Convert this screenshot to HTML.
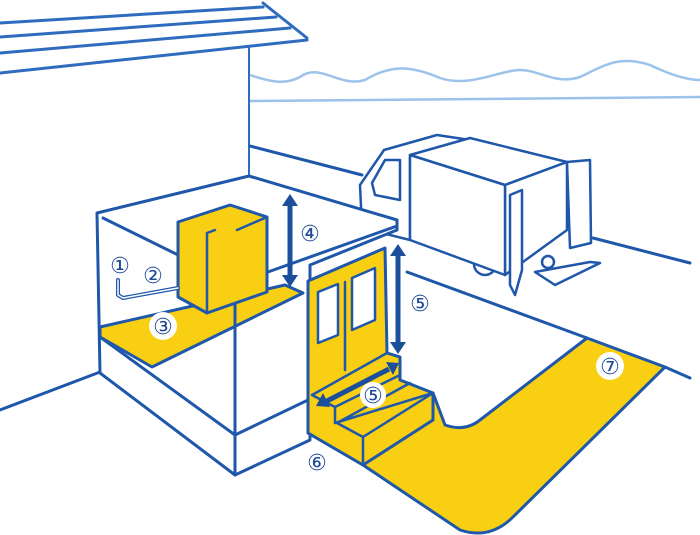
<!DOCTYPE html>
<html><head><meta charset="utf-8"><style>
html,body{margin:0;padding:0;background:#fff;width:700px;height:535px;overflow:hidden}
svg{display:block}
text{font-family:"Liberation Sans","DejaVu Sans",sans-serif;fill:#1e4a9a}
</style></head><body>
<svg width="700" height="535" viewBox="0 0 700 535" xmlns="http://www.w3.org/2000/svg">
<g fill="none" stroke="#2f6cc0" stroke-width="3" stroke-linecap="round" stroke-linejoin="round">
<!-- roof -->
<line x1="0" y1="23" x2="263" y2="7"/>
<line x1="0" y1="37" x2="276" y2="17"/>
<line x1="0" y1="53" x2="290" y2="28"/>
<line x1="0" y1="73" x2="307" y2="40"/>
<line x1="263" y1="3" x2="307" y2="38"/>
<line x1="249" y1="47" x2="249" y2="176" stroke-width="2"/>
</g>
<!-- background lines -->
<path d="M250 75 C270 82 285 85 300 77 C320 62 340 88 365 80 C390 65 410 65 440 78 C470 88 500 70 520 70 C540 70 555 85 580 77 C605 65 620 55 650 65 C675 77 690 80 700 80" fill="none" stroke="#9cc3ea" stroke-width="2.5"/>
<line x1="250" y1="101" x2="700" y2="97" stroke="#9cc3ea" stroke-width="2.5"/>
<g fill="none" stroke="#1f57aa" stroke-width="3" stroke-linejoin="round" stroke-linecap="round">
<line x1="250" y1="146" x2="362" y2="175"/>
<line x1="593" y1="238" x2="690" y2="263"/>
<line x1="407" y1="272" x2="587" y2="338"/>
<line x1="665" y1="367" x2="690" y2="378"/>
<line x1="0" y1="410" x2="100" y2="372"/>
</g>
<!-- truck -->
<g fill="#fff" stroke="#1f57aa" stroke-width="2.5" stroke-linejoin="round">
<path d="M384 150 L437 135 L470 140 L410 157 L410 240 L362 228 L360 185 Z"/>
<path d="M372 183 L385 160 L400 160 L400 200 L375 195 Z" fill="none"/>
<circle cx="485" cy="264" r="11"/>
<path d="M410 155 L470 138 L567 162 L505 185 Z"/>
<path d="M505 185 L567 162 L567 230 L505 275 Z"/>
<path d="M410 155 L505 185 L505 275 L410 240 Z"/>
<path d="M567 162 L590 160 L591 243 L570 248 Z"/>
<path d="M510 195 L522 190 L522 270 L515 295 L510 285 Z"/>
<path d="M535 272 L590 262 L600 263 L555 285 Z"/>
<circle cx="548" cy="262" r="6"/>
</g>
<!-- room -->
<g stroke="#1f57aa" stroke-width="3" stroke-linejoin="round" stroke-linecap="round">
<path d="M97 213 L249 176 L397 220 L397 230 L310 265 L310 440 L235 475 L100 373 Z" fill="#fff"/>
<path d="M100 327 L285 285 L303 293 L152 367 L100 337 Z" fill="#f8cf12"/>
<path d="M100 337 L235 435 L308 400" fill="none"/>
<line x1="152" y1="367" x2="235" y2="433" stroke-width="0"/>
<line x1="103" y1="218" x2="235" y2="283" fill="none"/>
<line x1="237" y1="283" x2="397" y2="226" fill="none"/>
<line x1="235" y1="290" x2="235" y2="475" fill="none"/>
<!-- box -->
<path d="M178 222 L230 205 L267 217 L267 292 L207 313 L178 297 Z" fill="#f8cf12"/>
<path d="M207 233 L207 313 M207 233 L215 230 M237 230 L267 217" fill="none" stroke-width="2.5"/>
<!-- handrail -->
<path d="M118 280 L118 295 L123 298 L178 288" fill="none" stroke-width="4"/>
<path d="M118 280 L118 295 L123 298 L178 288" fill="none" stroke="#fff" stroke-width="1.5"/>
<!-- yellow path -->
<path d="M308 433 L363 465 L460 530 Q490 540 513 517 L665 367 L587 338 L480 420 Q465 432 445 425 L433 393 L433 420 Z" fill="#f8cf12"/>
<!-- door + steps -->
<path d="M308 281 L385 248 L387 353 L400 357 L400 380 L433 393 L433 420 L363 465 L308 433 Z" fill="#f8cf12"/>
<path d="M318 292 L338 284 L338 335 L318 343 Z M352 278 L375 268 L375 320 L352 330 Z" fill="#fff" stroke-width="2.5"/>
<line x1="345" y1="282" x2="345" y2="370" stroke-width="2.5"/>
<path d="M312 395 L387 353 L400 357 L400 375 L335 407 L335 423 L433 393 M335 407 L312 395 M337 423 L363 437 L363 465 M363 437 L433 393 M410 383 L337 423" fill="none" stroke-width="2.5"/>
</g>
<!-- arrows -->
<g stroke="#1b4f9c" stroke-width="5" fill="#1b4f9c">
<line x1="290" y1="205" x2="290" y2="276"/>
<path d="M282 206 L290 194 L298 206 Z M282 275 L290 287 L298 275 Z" stroke="none"/>
<line x1="398" y1="255" x2="398" y2="343"/>
<path d="M390 256 L398 244 L406 256 Z M390 342 L398 354 L406 342 Z" stroke="none"/>
<line x1="327" y1="401" x2="389" y2="369"/>
<path d="M316 406 L323 393 L330 407 Z M399 363 L386 362 L393 375 Z" stroke="none"/>
</g>
<!-- labels -->
<g font-size="22">
<circle cx="163" cy="326" r="14" fill="#fff"/>
<circle cx="420" cy="303" r="13" fill="#fff"/>
<circle cx="373" cy="395" r="13" fill="#fff"/>
<circle cx="610" cy="366" r="14" fill="#fff"/>
<text x="120" y="273" text-anchor="middle">①</text>
<text x="153" y="283" text-anchor="middle">②</text>
<text x="163" y="334" text-anchor="middle">③</text>
<text x="310" y="241" text-anchor="middle">④</text>
<text x="420" y="311" text-anchor="middle">⑤</text>
<text x="373" y="403" text-anchor="middle">⑤</text>
<text x="317" y="470" text-anchor="middle">⑥</text>
<text x="610" y="374" text-anchor="middle">⑦</text>
</g>
</svg>
</body></html>
